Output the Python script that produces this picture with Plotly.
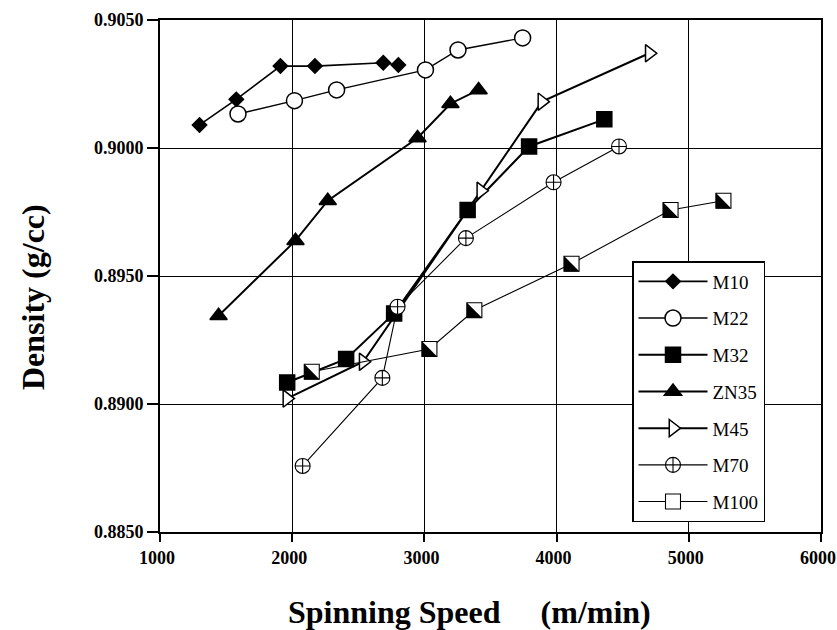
import math
import plotly.graph_objects as go

# ---- data ----
m10_x = [1299, 1577, 1911, 2172, 2689, 2803]
m10_y = [0.9009, 0.9019, 0.9032, 0.9032, 0.90333, 0.90324]

m22_x = [1590, 2017, 2336, 3008, 3254, 3743]
m22_y = [0.90133, 0.90185, 0.90227, 0.90305, 0.90383, 0.90430]

m32_x = [1962, 2408, 2771, 3327, 3792, 4361]
m32_y = [0.89084, 0.89176, 0.89354, 0.89758, 0.90006, 0.90112]

zn35_x = [1443, 2025, 2269, 2948, 3197, 3410]
zn35_y = [0.89345, 0.89638, 0.89794, 0.90039, 0.90173, 0.90227]

m45_x = [1960, 2537, 3427, 3889, 4701]
m45_y = [0.89021, 0.89165, 0.89833, 0.90181, 0.90370]

m70_x = [2079, 2682, 2797, 3314, 3977, 4472]
m70_y = [0.88758, 0.89102, 0.89380, 0.89648, 0.89866, 0.90006]

m100_x = [2148, 3038, 3378, 4113, 4862, 5262]
m100_y = [0.89126, 0.89215, 0.89366, 0.89548, 0.89758, 0.89794]

x_ticks = [1000, 2000, 3000, 4000, 5000, 6000]
y_ticks = [0.8850, 0.8900, 0.8950, 0.9000, 0.9050]

# ---- layout constants ----
W, H = 837, 630
ML, MR, MT, MB = 160, 16, 20, 98
PW, PH = W - ML - MR, H - MT - MB
XR = [1000, 6000]
YR = [0.8850, 0.9050]
SERIF = "Liberation Serif, Times New Roman, serif"

fig = go.Figure()

def add(x, y, name, symbol, size, color, lw, mlw=1.5):
    fig.add_trace(go.Scatter(
        x=x, y=y, name=name, mode="lines+markers",
        line=dict(color="black", width=lw),
        marker=dict(symbol=symbol, size=size, color=color,
                    line=dict(color="black", width=mlw)),
        legendgroup=name,
    ))

SQ = 15
add(m10_x, m10_y, "M10", "diamond", 11, "black", 1.6)
add(m22_x, m22_y, "M22", "circle", 16, "white", 1.4)
add(m32_x, m32_y, "M32", "square", 15, "black", 2.0)
add(zn35_x, zn35_y, "ZN35", "triangle-up", 15, "black", 2.0)
add(m45_x, m45_y, "M45", "triangle-right", 15, "white", 2.0)
add(m70_x, m70_y, "M70", "circle-cross", 15, "white", 1.1, mlw=1.1)
add(m100_x, m100_y, "M100", "square", SQ, "white", 1.1, mlw=1.1)

# half-filled square for M100: black right triangle (lower-left half) on a
# slightly shifted overlay axis pair so that it sits inside the square
tri_size = SQ / (math.sqrt(3) / 2)       # legs equal to the square side
shift_px = SQ / 2 - SQ / 3               # move left/down so right angle meets the corner
dx = shift_px * (XR[1] - XR[0]) / PW
dy = shift_px * (YR[1] - YR[0]) / PH
fig.add_trace(go.Scatter(
    x=m100_x, y=m100_y, mode="markers", showlegend=False, hoverinfo="skip",
    marker=dict(symbol="triangle-sw", size=tri_size, color="black", line=dict(width=0)),
    xaxis="x2", yaxis="y2", legendgroup="M100",
))

axis_font = dict(family=SERIF, size=18, color="black", weight="bold")

fig.update_layout(
    width=W, height=H,
    margin=dict(l=ML, r=MR, t=MT, b=MB, autoexpand=False),
    paper_bgcolor="white", plot_bgcolor="white",
    showlegend=True,
    legend=dict(
        x=(632 - ML) / PW, y=(H - MB - 261) / PH, xanchor="left", yanchor="top",
        bgcolor="white", bordercolor="black", borderwidth=1.5,
        font=dict(family=SERIF, size=19, color="black"),
        tracegroupgap=9, itemwidth=69, entrywidth=71, entrywidthmode="pixels",
    ),
    xaxis=dict(
        range=XR, tickvals=x_ticks, ticktext=[str(v) for v in x_ticks],
        showgrid=True, gridcolor="black", gridwidth=1.3,
        showline=True, linecolor="black", linewidth=2, mirror=True,
        ticks="outside", ticklen=8, tickwidth=1.5, tickcolor="black",
        tickfont=axis_font, zeroline=False, ticklabeloverflow="allow",
        ticklabelshift=-3, automargin=False,
    ),
    yaxis=dict(
        range=YR, tickvals=y_ticks, ticktext=[f"{v:.4f}" for v in y_ticks],
        showgrid=True, gridcolor="black", gridwidth=1.3,
        showline=True, linecolor="black", linewidth=2, mirror=True,
        ticks="outside", ticklen=11, tickwidth=1.5, tickcolor="black",
        tickfont=axis_font, zeroline=False, automargin=False,
    ),
    xaxis2=dict(range=[XR[0] + dx, XR[1] + dx], overlaying="x", visible=False,
                showgrid=False, zeroline=False),
    yaxis2=dict(range=[YR[0] + dy, YR[1] + dy], overlaying="y", visible=False,
                showgrid=False, zeroline=False),
    annotations=[
        dict(text="Spinning Speed\u00a0\u00a0\u00a0\u00a0 (m/min)",
             xref="paper", yref="paper", x=(469 - ML) / PW, y=-(612 - (H - MB)) / PH,
             xanchor="center", yanchor="middle", showarrow=False,
             font=dict(family=SERIF, size=32, color="black", weight="bold")),
        dict(text="Density (g/cc)", textangle=-90,
             xref="paper", yref="paper", x=(33 - ML) / PW, y=(H - MB - 297) / PH,
             xanchor="center", yanchor="middle", showarrow=False,
             font=dict(family=SERIF, size=32, color="black", weight="bold")),
    ],
)

fig.write_html("out.html")
